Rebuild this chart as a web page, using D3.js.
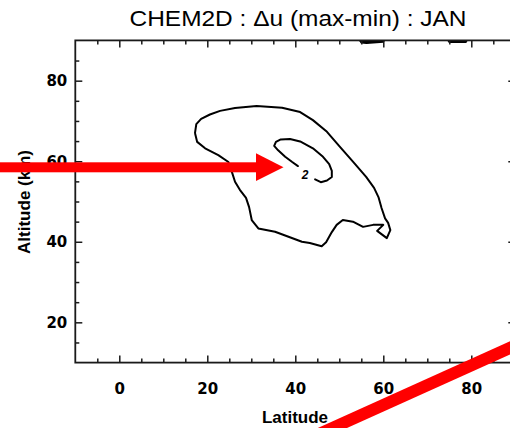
<!DOCTYPE html>
<html><head><meta charset="utf-8">
<script src="https://cdn.jsdelivr.net/npm/d3@7"></script>
<style>
html,body{margin:0;padding:0;background:#fff;}
svg{display:block;}
</style></head>
<body>
<svg id="chart" width="510" height="428"></svg>
<script>
// ---- data ----
const titleText = "CHEM2D : \u0394u (max-min) : JAN";
const xLabel = "Latitude";
const yLabel = "Altitude (km)";
const latDomain = [-10, 90];
const altDomain = [10, 90];
const latMajorTicks = [0, 20, 40, 60, 80];
const latMinorTicks = [-5, 5, 10, 15, 25, 30, 35, 45, 50, 55, 65, 70, 75, 85];
const altMajorTicks = [20, 40, 60, 80];
const altMinorTicks = [15, 25, 30, 35, 45, 50, 55, 65, 70, 75, 85];
const contourLevels = [1, 2];
const contourLabels = ["", "2"];
// outer contour (level 1) : [latitude, altitude]
const contourOuter = [
  [17.2,67.0],[17.5,69.2],[18.6,70.5],[20.6,71.6],[22.9,72.5],[26.3,73.2],[31.2,73.7],
  [37.0,73.3],[41.1,72.2],[44.0,70.2],[47.2,67.3],[50.2,63.5],[53.1,59.9],[56.1,56.1],
  [57.9,53.4],[58.9,51.1],[59.6,48.4],[60.4,45.8],[61.1,44.7],[61.6,42.9],[60.8,40.9],
  [58.6,42.7],[60.0,44.2],[57.7,44.2],[55.4,43.7],[53.1,45.0],[50.8,45.4],[49.4,44.2],
  [48.3,42.4],[47.0,39.9],[46.0,38.9],[43.3,39.7],[41.5,40.0],[38.3,41.3],[35.4,42.5],
  [31.6,43.3],[30.1,45.4],[29.5,48.6],[28.8,50.9],[27.4,52.9],[26.3,54.9],[25.6,57.3],
  [24.8,59.8],[22.5,61.5],[19.5,63.2],[17.7,64.8],[17.2,67.0]
];
// inner contour (level 2), open where the label sits
const contourInner = [
  [40.6,58.8],[39.3,59.8],[37.7,61.1],[36.1,62.7],[35.2,63.8],[35.6,64.8],[36.7,65.4],
  [38.8,65.5],[41.1,64.9],[44.0,63.2],[46.3,61.1],[47.7,59.3],[48.3,57.6],[48.3,56.1],
  [47.2,55.2],[45.8,54.8],[44.5,55.5]
];
const contourInnerLabelPos = [42.2, 56.6];
// small level-1 pieces touching the top border
const contourTopA = [[54.6,90],[55.0,89.4],[56.2,89.3],[60.0,89.6],[60.2,90]];
const contourTopB = [[74.7,90],[75.0,89.55],[78.8,89.55],[79.0,90]];

// ---- layout ----
const svg = d3.select("#chart");
const x = d3.scaleLinear().domain(latDomain).range([75.3, 515.3]);
const y = d3.scaleLinear().domain(altDomain).range([362.6, 40.4]);
const axisColor = "#1a1a1a";

const plot = svg.append("g");
plot.append("clipPath").attr("id","clip").append("rect")
  .attr("x", x(latDomain[0])).attr("y", y(altDomain[1]))
  .attr("width", x(latDomain[1]) - x(latDomain[0]))
  .attr("height", y(altDomain[0]) - y(altDomain[1]));

const line = d3.line().x(d => x(d[0])).y(d => y(d[1])).curve(d3.curveLinear);
const cg = plot.append("g").attr("clip-path","url(#clip)")
  .attr("fill","none").attr("stroke","#000").attr("stroke-width",2)
  .attr("stroke-linejoin","round").attr("stroke-linecap","round");
[contourOuter, contourInner].forEach(c => {
  cg.append("path").attr("d", line(c));
});
cg.append("path").attr("d", line(contourTopA) + "Z").attr("fill","#000").attr("stroke-width",1.5);
cg.append("path").attr("d", line(contourTopB) + "Z").attr("fill","#000").attr("stroke-width",1.5);

plot.append("text")
  .attr("x", x(contourInnerLabelPos[0])).attr("y", y(contourInnerLabelPos[1]))
  .attr("text-anchor","middle").attr("dy","0.35em")
  .attr("font-family","Liberation Sans, Arial, sans-serif")
  .attr("font-size", 12).attr("font-style","italic").attr("font-weight","bold")
  .attr("fill","#000").text(contourLabels[1]);

// ---- axes ----
function styleAxis(g){
  g.select(".domain").remove();
  g.selectAll(".tick line").attr("stroke", axisColor).attr("stroke-width",1.5);
  g.selectAll(".tick text").attr("fill","#000")
    .attr("font-family","DejaVu Sans, sans-serif").attr("font-weight","bold")
    .attr("font-size",15);
}
const yBottom = y(altDomain[0]), yTop = y(altDomain[1]);
const xLeft = x(latDomain[0]), xRight = x(latDomain[1]);

svg.append("g").attr("transform",`translate(0,${yBottom})`)
  .call(d3.axisBottom(x).tickValues(latMajorTicks).tickSize(-7).tickPadding(21).tickFormat(d3.format("d")))
  .call(styleAxis);
svg.append("g").attr("transform",`translate(0,${yBottom})`)
  .call(d3.axisBottom(x).tickValues(latMinorTicks).tickSize(-4).tickFormat(""))
  .call(styleAxis);
svg.append("g").attr("transform",`translate(0,${yTop})`)
  .call(d3.axisTop(x).tickValues(latMajorTicks).tickSize(-7).tickFormat(""))
  .call(styleAxis);
svg.append("g").attr("transform",`translate(0,${yTop})`)
  .call(d3.axisTop(x).tickValues(latMinorTicks).tickSize(-4).tickFormat(""))
  .call(styleAxis);
svg.append("g").attr("transform",`translate(${xLeft},0)`)
  .call(d3.axisLeft(y).tickValues(altMajorTicks).tickSize(-7).tickPadding(8).tickFormat(d3.format("d")))
  .call(styleAxis);
svg.append("g").attr("transform",`translate(${xLeft},0)`)
  .call(d3.axisLeft(y).tickValues(altMinorTicks).tickSize(-4).tickFormat(""))
  .call(styleAxis);
svg.append("g").attr("transform",`translate(${xRight},0)`)
  .call(d3.axisRight(y).tickValues(altMajorTicks).tickSize(-7).tickFormat(""))
  .call(styleAxis);
svg.append("g").attr("transform",`translate(${xRight},0)`)
  .call(d3.axisRight(y).tickValues(altMinorTicks).tickSize(-4).tickFormat(""))
  .call(styleAxis);

svg.append("rect").attr("x", xLeft).attr("y", yTop)
  .attr("width", xRight-xLeft).attr("height", yBottom-yTop)
  .attr("fill","none").attr("stroke", axisColor).attr("stroke-width",1.8);

// ---- titles ----
svg.append("text").attr("x", 298).attr("y", 26)
  .attr("text-anchor","middle")
  .attr("font-family","Liberation Sans, Arial, sans-serif").attr("font-size",22)
  .attr("textLength",337).attr("lengthAdjust","spacingAndGlyphs")
  .attr("fill","#000").text(titleText);
svg.append("text").attr("x", 295).attr("y", 422.5)
  .attr("text-anchor","middle")
  .attr("font-family","Liberation Sans, Arial, sans-serif").attr("font-size",17).attr("font-weight","bold")
  .attr("fill","#000").text(xLabel);
svg.append("text").attr("transform","translate(30,202) rotate(-90)")
  .attr("text-anchor","middle")
  .attr("font-family","Liberation Sans, Arial, sans-serif").attr("font-size",17).attr("font-weight","bold")
  .attr("fill","#000").text(yLabel);

// ---- red annotation arrows ----
const ann = svg.append("g").attr("fill","#ff0000").attr("stroke","none");
ann.append("rect").attr("x",0).attr("y",162.3).attr("width",257).attr("height",10);
ann.append("path").attr("d","M256,153.3 L283.5,167.3 L256,181 Z");
svg.append("line").attr("x1",318).attr("y1",434.5).attr("x2",522).attr("y2",342.5)
  .attr("stroke","#ff0000").attr("stroke-width",12);
</script>
</body></html>
